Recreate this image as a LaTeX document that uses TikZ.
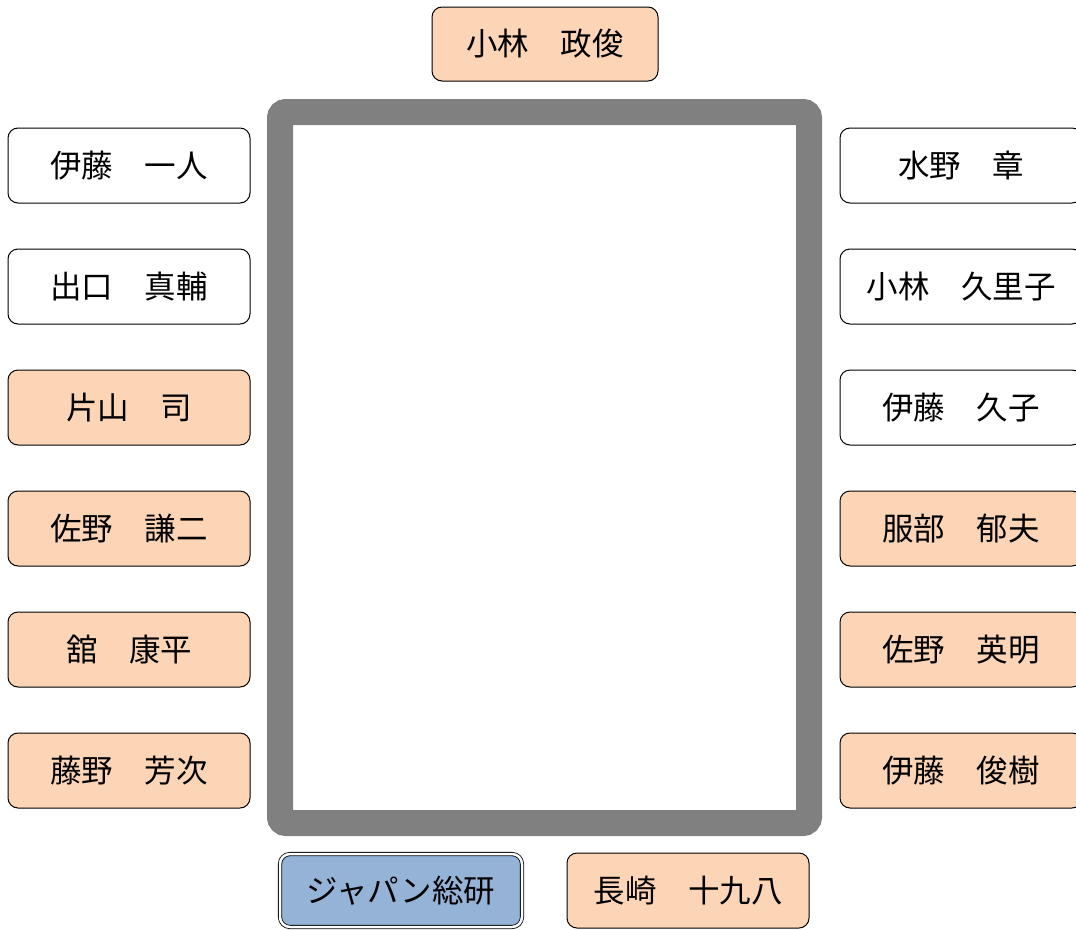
\documentclass[tikz,border=0pt]{standalone}
\usepackage{fontspec}
\newfontfamily\jp{Noto Sans CJK JP}
\definecolor{peach}{HTML}{FBD5B5}
\definecolor{bluebox}{HTML}{95B3D7}
\definecolor{framegray}{HTML}{808080}
\tikzset{
  person/.style={draw=black, line width=1pt, rounded corners=10pt, minimum width=242pt, minimum height=75pt, inner sep=0pt, font=\jp\fontsize{31.5}{33}\selectfont},
  warm/.style={person, fill=peach},
  plain/.style={person, fill=white},
  org/.style={draw=black, line width=0.8pt, double=white, double distance=2.5pt, fill=bluebox, rounded corners=10pt, minimum width=242pt, minimum height=73pt, inner sep=0pt, font=\jp\fontsize{31.5}{33}\selectfont}
}
\begin{document}
\begin{tikzpicture}[x=1pt,y=-1pt]
\useasboundingbox (0,0) rectangle (1076,929);
\fill[white] (0,0) rectangle (1076,929);
% frame
\draw[framegray, line width=26pt, rounded corners=6pt] (280,112) rectangle (809,823);
% top
\node[warm, minimum width=226pt, minimum height=74pt] (kobayashi) at (545,44) {小林　政俊};
% left column
\node[plain] (l1) at (129,165.5) {伊藤　一人};
\node[plain] (l2) at (129,286.5) {出口　真輔};
\node[warm] (l3) at (129,407.5) {片山　司};
\node[warm] (l4) at (129,528.5) {佐野　謙二};
\node[warm] (l5) at (129,649.5) {舘　康平};
\node[warm] (l6) at (129,770.5) {藤野　芳次};
% right column
\node[plain] (r1) at (961,165.5) {水野　章};
\node[plain] (r2) at (961,286.5) {小林　久里子};
\node[plain] (r3) at (961,407.5) {伊藤　久子};
\node[warm] (r4) at (961,528.5) {服部　郁夫};
\node[warm] (r5) at (961,649.5) {佐野　英明};
\node[warm] (r6) at (961,770.5) {伊藤　俊樹};
% bottom
\node[org] (japan) at (401,890.5) {ジャパン総研};
\node[warm] (nagasaki) at (688,890.5) {長崎　十九八};
\end{tikzpicture}
\end{document}
